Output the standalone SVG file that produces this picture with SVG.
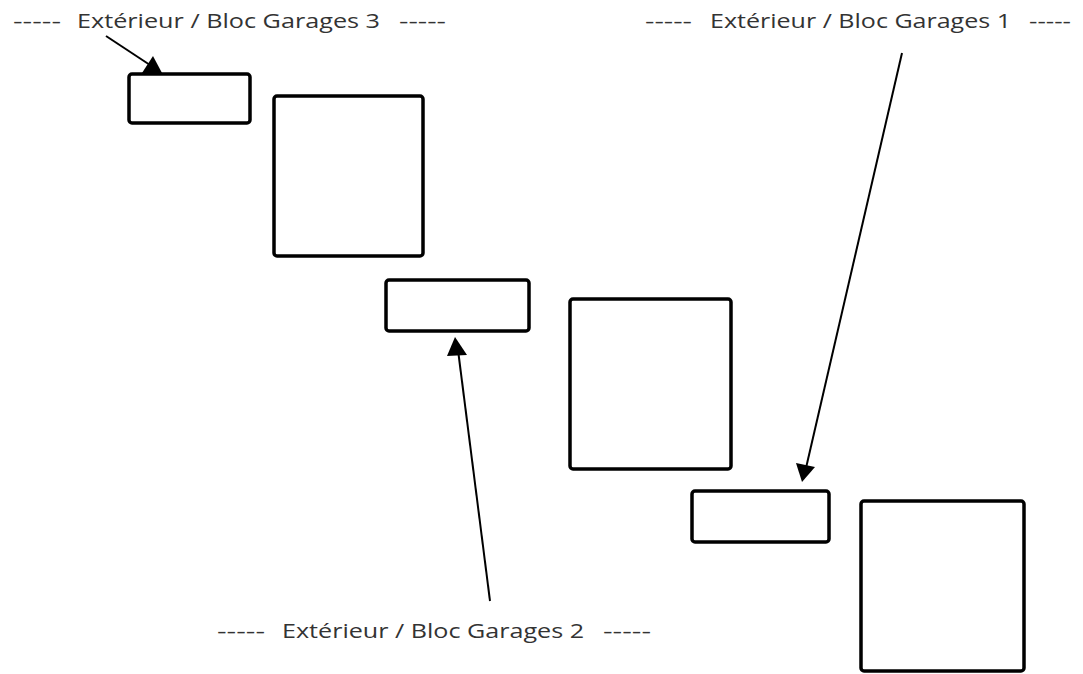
<svg xmlns="http://www.w3.org/2000/svg" width="1083" height="674" viewBox="0 0 1083 674">
<style>
.box{fill:#fff;stroke:#000;stroke-width:3.5}
.lbl{font-family:"Open Sans","Noto Sans",sans-serif;font-size:19.5px;fill:#333}
.conn line{stroke:#000;stroke-width:2}
.conn polygon{fill:#000}
</style>
<rect width="1083" height="674" fill="#fff"/>
<g id="label3" class="lbl">
<text x="13" y="28" textLength="48" lengthAdjust="spacingAndGlyphs">-----</text>
<text x="77" y="28" textLength="303" lengthAdjust="spacingAndGlyphs">Extérieur / Bloc Garages 3</text>
<text x="399" y="28" textLength="47" lengthAdjust="spacingAndGlyphs">-----</text>
</g>
<g id="label1" class="lbl">
<text x="645" y="28" textLength="47" lengthAdjust="spacingAndGlyphs">-----</text>
<text x="710" y="28" textLength="301" lengthAdjust="spacingAndGlyphs">Extérieur / Bloc Garages 1</text>
<text x="1029" y="28" textLength="42" lengthAdjust="spacingAndGlyphs">-----</text>
</g>
<g id="label2" class="lbl">
<text x="217" y="638" textLength="48" lengthAdjust="spacingAndGlyphs">-----</text>
<text x="282" y="638" textLength="302" lengthAdjust="spacingAndGlyphs">Extérieur / Bloc Garages 2</text>
<text x="603" y="638" textLength="48" lengthAdjust="spacingAndGlyphs">-----</text>
</g>
<g id="boxA"><rect class="box" x="129" y="74" width="121" height="49" rx="3"/></g>
<g id="boxB"><rect class="box" x="274" y="96" width="149" height="160" rx="3"/></g>
<g id="boxC"><rect class="box" x="386" y="280" width="143" height="51" rx="3"/></g>
<g id="boxD"><rect class="box" x="570" y="299" width="161" height="170" rx="3"/></g>
<g id="boxE"><rect class="box" x="692" y="491" width="137" height="51" rx="3"/></g>
<g id="boxF"><rect class="box" x="861" y="501" width="163" height="170" rx="3"/></g>
<g class="conn" id="connectors">
<line x1="106" y1="36" x2="150" y2="65"/>
<polygon points="142,73 162,73 153,56"/>
<line x1="490" y1="601" x2="458" y2="350"/>
<polygon points="447,356 467,355 455,337"/>
<line x1="902" y1="53" x2="806" y2="468"/>
<polygon points="796,463 815,467 802,482"/>
</g>
</svg>
